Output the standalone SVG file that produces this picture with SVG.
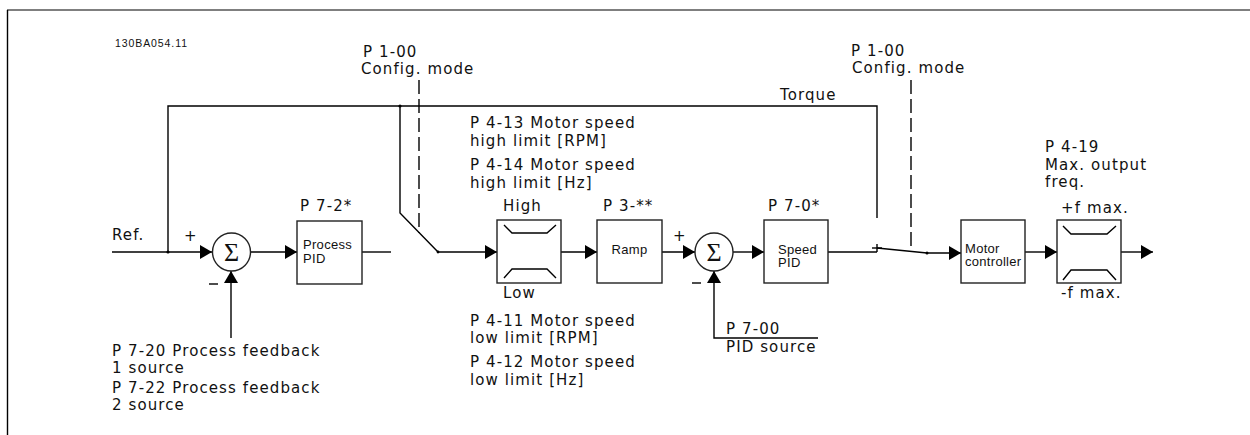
<svg xmlns="http://www.w3.org/2000/svg" width="1250" height="435" viewBox="0 0 1250 435">
<defs>
<style>
.ln{stroke:#000;stroke-width:1.4;fill:none}
.bx{stroke:#222;stroke-width:1.4;fill:#fff}
.ds{stroke:#000;stroke-width:1.4;fill:none;stroke-dasharray:14 5}
.t{font-family:"DejaVu Sans",Verdana,sans-serif;font-size:15px;letter-spacing:1.1px;fill:#111}
.s{font-family:"Liberation Sans",Arial,sans-serif;font-size:13px;letter-spacing:0.3px;fill:#111}
.sig{font-family:"Liberation Serif","Times New Roman",serif;font-size:26px;fill:#111}
</style>
<marker id="ah" viewBox="0 0 12 14" refX="12" refY="7" markerWidth="12" markerHeight="14" markerUnits="userSpaceOnUse" orient="auto">
<path d="M0,0 L12,7 L0,14 Z" fill="#000"/>
</marker>
</defs>
<rect width="1250" height="435" fill="#fff"/>
<g id="frame">
<line x1="7" y1="10" x2="1250" y2="10" stroke="#555" stroke-width="1.6"/>
<line x1="7.5" y1="10" x2="7.5" y2="435" stroke="#000" stroke-width="1.4"/>
<text x="115" y="47" font-family="Liberation Sans,Arial,sans-serif" font-size="10.5" textLength="72" fill="#111">130BA054.11</text>
</g>
<g id="connectors">
<line class="ln" x1="112" y1="252" x2="212" y2="252" marker-end="url(#ah)"/>
<polyline class="ln" points="168,252 168,106 877,106 877,218"/>
<circle cx="168" cy="252" r="1.6" fill="#000"/>
<circle cx="400" cy="106" r="1.6" fill="#000"/>
<polyline class="ln" points="400,106 400,213 438,252"/>
<line class="ln" x1="438" y1="252" x2="497" y2="252" marker-end="url(#ah)"/>
<circle cx="438" cy="252" r="1.4" fill="#000"/>
<line class="ln" x1="231" y1="338" x2="231" y2="271" marker-end="url(#ah)"/>
<line class="ln" x1="251" y1="252" x2="297" y2="252" marker-end="url(#ah)"/>
<line class="ln" x1="362" y1="252" x2="391" y2="252"/>
<line class="ds" x1="419" y1="80" x2="419" y2="233"/>
<line class="ln" x1="561" y1="252" x2="597" y2="252" marker-end="url(#ah)"/>
<line class="ln" x1="662" y1="252" x2="695" y2="252" marker-end="url(#ah)"/>
<line class="ln" x1="733" y1="252" x2="764" y2="252" marker-end="url(#ah)"/>
<polyline class="ln" points="818,338 714,338 714,271" marker-end="url(#ah)"/>
<line class="ln" x1="828" y1="252" x2="877" y2="252"/>
<line class="ln" x1="877" y1="244" x2="877" y2="252"/>
<line class="ln" x1="872" y1="248" x2="882" y2="248"/>
<line class="ln" x1="877" y1="248" x2="927" y2="253"/>
<circle cx="927" cy="253" r="1.5" fill="#000"/>
<line class="ln" x1="927" y1="253" x2="961" y2="253" marker-end="url(#ah)"/>
<line class="ds" x1="911" y1="80" x2="911" y2="250"/>
<line class="ln" x1="1025" y1="252" x2="1057" y2="252" marker-end="url(#ah)"/>
<line class="ln" x1="1121" y1="252" x2="1153" y2="252" marker-end="url(#ah)"/>
</g>
<g id="sum1">
<circle class="bx" cx="231.5" cy="252" r="19"/>
<text class="sig" x="231.5" y="261" text-anchor="middle">Σ</text>
<text class="t" x="184" y="241">+</text>
<line x1="209" y1="284" x2="218" y2="284" stroke="#000" stroke-width="1.4"/>
</g>
<g id="process-pid">
<rect class="bx" x="297" y="221" width="65" height="63"/>
<text class="s" x="303" y="249">Process</text>
<text class="s" x="303" y="263">PID</text>
<text class="t" x="300" y="211">P 7-2*</text>
</g>
<g id="speed-limit">
<rect class="bx" x="497" y="220" width="64" height="63"/>
<polyline class="ln" points="504,225 512,233 547,233 556,225"/>
<polyline class="ln" points="504,278 512,269 547,269 556,278"/>
<text class="t" x="503" y="211">High</text>
<text class="t" x="503" y="298">Low</text>
</g>
<g id="ramp">
<rect class="bx" x="597" y="220" width="65" height="63"/>
<text class="s" x="629.5" y="254" text-anchor="middle">Ramp</text>
<text class="t" x="603" y="211">P 3-**</text>
</g>
<g id="sum2">
<circle class="bx" cx="714" cy="252" r="19"/>
<text class="sig" x="714" y="261" text-anchor="middle">Σ</text>
<text class="t" x="673" y="241">+</text>
<line x1="692" y1="283" x2="701" y2="283" stroke="#000" stroke-width="1.4"/>
</g>
<g id="speed-pid">
<rect class="bx" x="764" y="220" width="64" height="63"/>
<text class="s" x="778" y="254">Speed</text>
<text class="s" x="778" y="267">PID</text>
<text class="t" x="768" y="211">P 7-0*</text>
</g>
<g id="motor-controller">
<rect class="bx" x="961" y="220" width="64" height="63"/>
<text class="s" x="965" y="253">Motor</text>
<text class="s" x="965" y="266">controller</text>
</g>
<g id="freq-limit">
<rect class="bx" x="1057" y="220" width="64" height="63"/>
<polyline class="ln" points="1063,226 1071,234 1107,234 1116,226"/>
<polyline class="ln" points="1063,280 1071,270 1107,270 1116,280"/>
<text class="t" x="1061" y="213">+f max.</text>
<text class="t" x="1061" y="298">-f max.</text>
</g>
<g id="labels">
<text class="t" x="363" y="57">P 1-00</text>
<text class="t" x="361" y="74">Config. mode</text>
<text class="t" x="851" y="56">P 1-00</text>
<text class="t" x="852" y="73">Config. mode</text>
<text class="t" x="780" y="100">Torque</text>
<text class="t" x="470" y="128">P 4-13 Motor speed</text>
<text class="t" x="470" y="146">high limit [RPM]</text>
<text class="t" x="470" y="170">P 4-14 Motor speed</text>
<text class="t" x="470" y="188">high limit [Hz]</text>
<text class="t" x="470" y="326">P 4-11 Motor speed</text>
<text class="t" x="470" y="343">low limit [RPM]</text>
<text class="t" x="470" y="367">P 4-12 Motor speed</text>
<text class="t" x="470" y="385">low limit [Hz]</text>
<text class="t" x="726" y="334">P 7-00</text>
<text class="t" x="726" y="352">PID source</text>
<text class="t" x="112" y="240">Ref.</text>
<text class="t" x="112" y="356">P 7-20 Process feedback</text>
<text class="t" x="112" y="373">1 source</text>
<text class="t" x="112" y="393">P 7-22 Process feedback</text>
<text class="t" x="112" y="410">2 source</text>
<text class="t" x="1045" y="152">P 4-19</text>
<text class="t" x="1045" y="170">Max. output</text>
<text class="t" x="1045" y="187">freq.</text>
</g>
</svg>
